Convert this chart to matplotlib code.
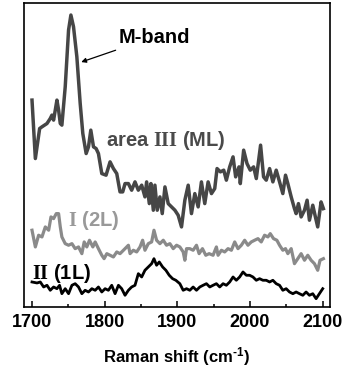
import matplotlib
matplotlib.use("Agg")
import matplotlib.pyplot as plt
from matplotlib.ticker import MultipleLocator

plt.rcParams['font.family'] = ['Liberation Sans', 'DejaVu Sans']
plt.rcParams['font.weight'] = 'bold'
plt.rcParams['axes.unicode_minus'] = False
plt.rcParams['mathtext.fontset'] = 'custom'
plt.rcParams['mathtext.bf'] = 'Liberation Serif:bold'
plt.rcParams['mathtext.rm'] = 'Liberation Sans:bold'
plt.rcParams['mathtext.default'] = 'regular'

# area III (ML)
shift_ml = [1700, 1704.6, 1710.5, 1713.7, 1720.6, 1725.1, 1727.4, 1729.7, 1732, 1734.3,
            1736.6, 1738.9, 1741.1, 1745.7, 1750.3, 1753.5, 1757.1, 1761.7, 1766.3, 1769.9,
            1774.5, 1777.7, 1780.9, 1784.6, 1788.2, 1791.4, 1796, 1801.9, 1807.4, 1812,
            1816.6, 1821.1, 1824.8, 1828, 1832.6, 1837.1, 1841.7, 1846.3, 1850.9, 1855.4,
            1857.7, 1861.4, 1863.6, 1866.9, 1869.1, 1872.3, 1876, 1879.2, 1882.9, 1887.4,
            1892, 1896.6, 1901.1, 1905.7, 1910.3, 1914.9, 1919.4, 1924, 1928.6, 1933.1,
            1937.7, 1942.3, 1946.9, 1951.4, 1954.6, 1959.2, 1963.8, 1967.4, 1972, 1976.6,
            1980.2, 1984.8, 1986.6, 1991.2, 1995.8, 2000.3, 2004.9, 2008.6, 2014.5, 2018.6,
            2022.3, 2026.9, 2031.4, 2036, 2040.6, 2045.1, 2048.8, 2052, 2056.6, 2061.1,
            2063.4, 2066.6, 2070.3, 2074.9, 2078.5, 2081.7, 2086.3, 2089.9, 2093.1, 2097.7,
            2100.9]
int_ml = [206.7, 148.3, 178.3, 180, 183.3, 188.3, 191.7, 186.7, 196.7, 206.7,
          196.7, 183.3, 181.7, 220, 276.7, 291.7, 280, 250, 203.3, 173.3,
          153.3, 160, 176.7, 160, 158.3, 153.3, 133.3, 131.7, 145, 138.3,
          133.3, 115, 115, 123.3, 123.3, 116.7, 125, 116.7, 121.7, 110,
          125, 103.3, 123.3, 96.7, 121.7, 96.7, 110, 93.3, 120, 103.3,
          100, 96.7, 91.7, 80, 106.7, 121.7, 93.3, 113.3, 100, 125,
          103.3, 125, 113.3, 118.3, 138.3, 135, 136.7, 126.7, 140, 150,
          130, 140, 123.3, 156.7, 143.3, 136.7, 140, 128.3, 161.7, 130,
          126.7, 138.3, 125, 136.7, 125, 113.3, 131.7, 123.3, 110, 98.3,
          93.3, 103.3, 90, 96.7, 106.7, 86.7, 101.7, 90, 80, 105,
          98.3]

# area I (2L)
shift_2l = [1700, 1704.6, 1709.1, 1713.7, 1718.3, 1722.9, 1726.1, 1729.7, 1733.4, 1736.6,
            1738.9, 1741.1, 1745.7, 1750.3, 1754.9, 1759.4, 1764, 1768.6, 1771.8, 1775.4,
            1779.1, 1783.7, 1786.9, 1791.4, 1796, 1799.2, 1802.9, 1807.4, 1812, 1816.6,
            1821.1, 1828, 1832.6, 1834.9, 1839.4, 1844, 1848.6, 1852.2, 1855.4, 1860,
            1864.6, 1867.8, 1871.4, 1876, 1880.6, 1885.1, 1889.7, 1894.3, 1898.9, 1903.4,
            1908, 1910.3, 1912.6, 1917.1, 1921.7, 1926.3, 1929.9, 1934.5, 1939.1, 1943.7,
            1949.1, 1953.7, 1956, 1960.6, 1965.1, 1969.7, 1974.3, 1978.9, 1983.4, 1988,
            1992.6, 1997.1, 2001.7, 2006.3, 2010.9, 2015.4, 2020, 2024.6, 2027.8, 2032.3,
            2036.9, 2040.6, 2045.1, 2048.8, 2052, 2056.6, 2061.1, 2065.7, 2070.3, 2074.9,
            2079.4, 2084, 2088.6, 2093.1, 2096.3, 2100.9]
int_2l = [76.7, 60, 71.7, 70, 80, 76.7, 90, 88.3, 93.3, 93.3,
          80, 70, 63.3, 61.7, 63.3, 58.3, 60, 53.3, 65, 60,
          66.7, 60, 65, 58.3, 51.7, 48.3, 53.3, 51.7, 50, 55,
          53.3, 58.3, 61.7, 53.3, 56.7, 55, 60, 66.7, 56.7, 63.3,
          65, 76.7, 66.7, 63.3, 66.7, 61.7, 63.3, 58.3, 61.7, 60,
          55, 46.7, 58.3, 58.3, 56.7, 61.7, 53.3, 58.3, 51.7, 53.3,
          51.7, 60, 51.7, 56.7, 55, 58.3, 56.7, 65, 58.3, 61.7,
          66.7, 61.7, 65, 66.7, 68.3, 65, 71.7, 70, 73.3, 68.3,
          66.7, 61.7, 56.7, 58.3, 53.3, 58.3, 43.3, 48.3, 53.3, 46.7,
          51.7, 46.7, 43.3, 36.7, 46.7, 48.3]

# area II (1L)
shift_1l = [1700, 1706.9, 1711.4, 1716, 1720.6, 1725.1, 1729.7, 1734.3, 1737.9, 1741.1,
            1745.7, 1750.3, 1754.9, 1759.4, 1764, 1768.6, 1773.1, 1777.7, 1782.3, 1786.9,
            1791.4, 1796, 1800.6, 1805.1, 1809.7, 1814.3, 1818.9, 1823.4, 1828, 1832.6,
            1837.1, 1841.7, 1846.3, 1850.9, 1855.4, 1860, 1864.6, 1867.8, 1871.4, 1875.1,
            1879.7, 1884.2, 1888.8, 1893.4, 1897.9, 1903.4, 1908, 1912.6, 1917.1, 1921.7,
            1926.3, 1930.9, 1935.4, 1940, 1944.6, 1949.1, 1953.7, 1958.3, 1962.9, 1967.4,
            1972, 1976.6, 1981.1, 1985.7, 1990.3, 1994.9, 1999.4, 2004, 2008.6, 2013.1,
            2017.7, 2022.3, 2026.9, 2031.4, 2036, 2040.6, 2045.1, 2049.7, 2054.3, 2058.9,
            2063.4, 2068, 2072.6, 2077.1, 2081.7, 2086.3, 2090.9, 2095.4, 2100]
int_1l = [25, 24, 25, 20, 21.7, 16.7, 20, 18.3, 21.7, 13.3,
          18.3, 13.3, 21.7, 23.3, 20, 13.3, 16.7, 15, 18.3, 16.7,
          20, 15, 18.3, 16.7, 21.7, 13.3, 21.7, 18.3, 11.7, 16.7,
          20, 21.7, 33.3, 30, 36.7, 40, 43.3, 48.3, 41.7, 45,
          40, 36.7, 31.7, 28.3, 26.7, 23.3, 16.7, 18.3, 16.7, 20,
          16.7, 20, 21.7, 23.3, 20, 21.7, 23.3, 20, 23.3, 21.7,
          25, 30, 26.7, 30, 35, 31.7, 31.7, 30, 26.7, 28.3,
          26.7, 26.7, 25, 26.7, 23.3, 21.7, 16.7, 18.3, 15, 13.3,
          15, 13.3, 11.7, 15, 11.7, 13.3, 8.3, 13.3, 18.3]

fig = plt.figure(figsize=(3.44, 3.71), dpi=100)
ax = fig.add_axes([0.0698, 0.1725, 0.8895, 0.8202])

ax.plot(shift_ml, int_ml, color='#464646', lw=2.5, solid_joinstyle='round')
ax.plot(shift_2l, int_2l, color='#8a8a8a', lw=2.3, solid_joinstyle='round')
ax.plot(shift_1l, int_1l, color='black', lw=2.0, solid_joinstyle='round')

ax.set_xlim(1689, 2110)
ax.set_ylim(0, 304)
ax.set_yticks([])
ax.xaxis.set_major_locator(MultipleLocator(100))
ax.xaxis.set_minor_locator(MultipleLocator(50))
ax.tick_params(axis='x', which='both', direction='in', width=1.1, pad=5,
               labelsize=13)
ax.tick_params(axis='x', which='major', length=4)
ax.tick_params(axis='x', which='minor', length=2.5)
for sp in ax.spines.values():
    sp.set_linewidth(1.2)

ax.set_xlabel(r'Raman shift (cm$^{\text{-1}}$)', fontsize=12, fontweight='bold',
              labelpad=10)

ax.annotate('M-band', xy=(1767.7, 244.7), xytext=(1818.6, 269.7),
            fontsize=14.5, fontweight='bold', ha='left', va='center',
            arrowprops=dict(arrowstyle='-|>', color='black', lw=0.9,
                            mutation_scale=7, shrinkA=2, shrinkB=0))
ax.text(1802, 166.7, r'area $\mathbf{III}$ (ML)', fontsize=14.5, fontweight='bold',
        color='#4a4a4a', ha='left', va='center')
ax.text(1750, 86.7, r'$\mathbf{I}$ (2L)', fontsize=14.5, fontweight='bold',
        color='#999999', ha='left', va='center')
ax.text(1700.4, 33.7, r'$\mathbf{II}$ (1L)', fontsize=14.5, fontweight='bold',
        color='black', ha='left', va='center')

fig.savefig('out.png', dpi=100)
